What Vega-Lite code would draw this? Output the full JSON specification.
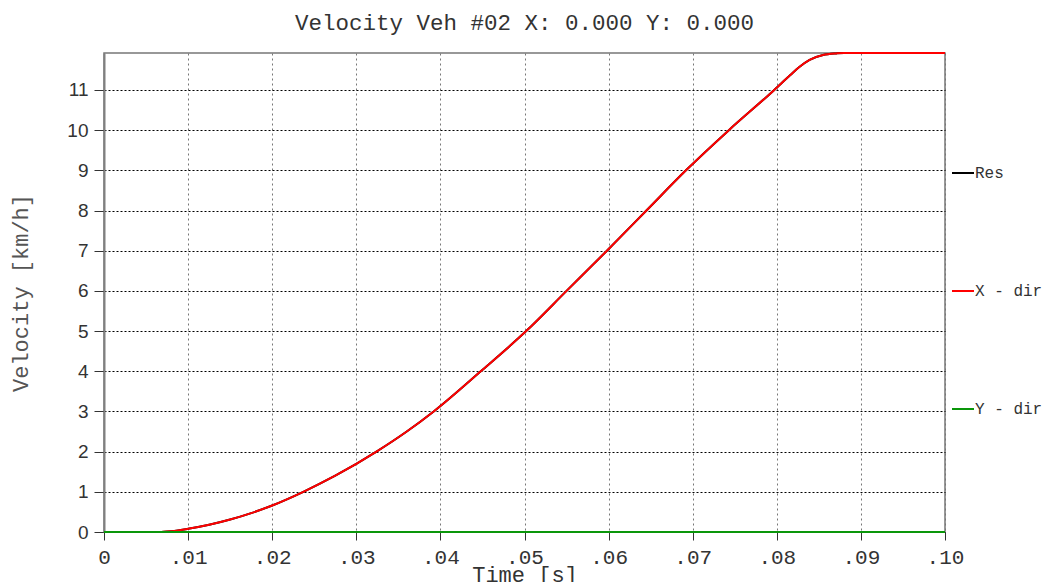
{
  "$schema": "https://vega.github.io/schema/vega-lite/v6.json",
  "width": 841,
  "height": 479,
  "autosize": {"type": "none"},
  "padding": {"left": 104, "top": 53, "right": 98, "bottom": 50},
  "background": "white",
  "title": {
    "text": "Velocity Veh #02 X: 0.000 Y: 0.000",
    "font": "Liberation Mono",
    "fontSize": 22.5,
    "fontWeight": "normal",
    "color": "#333333",
    "anchor": "middle",
    "offset": 15
  },
  "data": {
    "values": [
      {"t": 0, "v": 0, "series": "Res"},
      {"t": 0.0065, "v": 0, "series": "Res"},
      {"t": 0.008, "v": 0.02, "series": "Res"},
      {"t": 0.01, "v": 0.08, "series": "Res"},
      {"t": 0.0125, "v": 0.18, "series": "Res"},
      {"t": 0.015, "v": 0.31, "series": "Res"},
      {"t": 0.0175, "v": 0.47, "series": "Res"},
      {"t": 0.02, "v": 0.66, "series": "Res"},
      {"t": 0.0237, "v": 1.0, "series": "Res"},
      {"t": 0.0275, "v": 1.4, "series": "Res"},
      {"t": 0.0324, "v": 2.0, "series": "Res"},
      {"t": 0.036, "v": 2.5, "series": "Res"},
      {"t": 0.0392, "v": 3.0, "series": "Res"},
      {"t": 0.0448, "v": 4.0, "series": "Res"},
      {"t": 0.0502, "v": 5.0, "series": "Res"},
      {"t": 0.055, "v": 6.0, "series": "Res"},
      {"t": 0.0598, "v": 7.0, "series": "Res"},
      {"t": 0.0645, "v": 8.0, "series": "Res"},
      {"t": 0.0692, "v": 9.0, "series": "Res"},
      {"t": 0.0743, "v": 10.0, "series": "Res"},
      {"t": 0.0797, "v": 11.0, "series": "Res"},
      {"t": 0.0816, "v": 11.37, "series": "Res"},
      {"t": 0.0826, "v": 11.56, "series": "Res"},
      {"t": 0.0839, "v": 11.75, "series": "Res"},
      {"t": 0.0855, "v": 11.87, "series": "Res"},
      {"t": 0.0871, "v": 11.91, "series": "Res"},
      {"t": 0.088, "v": 11.92, "series": "Res"},
      {"t": 0.1, "v": 11.92, "series": "Res"},

      {"t": 0, "v": 0, "series": "X - dir"},
      {"t": 0.0065, "v": 0, "series": "X - dir"},
      {"t": 0.008, "v": 0.02, "series": "X - dir"},
      {"t": 0.01, "v": 0.08, "series": "X - dir"},
      {"t": 0.0125, "v": 0.18, "series": "X - dir"},
      {"t": 0.015, "v": 0.31, "series": "X - dir"},
      {"t": 0.0175, "v": 0.47, "series": "X - dir"},
      {"t": 0.02, "v": 0.66, "series": "X - dir"},
      {"t": 0.0237, "v": 1.0, "series": "X - dir"},
      {"t": 0.0275, "v": 1.4, "series": "X - dir"},
      {"t": 0.0324, "v": 2.0, "series": "X - dir"},
      {"t": 0.036, "v": 2.5, "series": "X - dir"},
      {"t": 0.0392, "v": 3.0, "series": "X - dir"},
      {"t": 0.0448, "v": 4.0, "series": "X - dir"},
      {"t": 0.0502, "v": 5.0, "series": "X - dir"},
      {"t": 0.055, "v": 6.0, "series": "X - dir"},
      {"t": 0.0598, "v": 7.0, "series": "X - dir"},
      {"t": 0.0645, "v": 8.0, "series": "X - dir"},
      {"t": 0.0692, "v": 9.0, "series": "X - dir"},
      {"t": 0.0743, "v": 10.0, "series": "X - dir"},
      {"t": 0.0797, "v": 11.0, "series": "X - dir"},
      {"t": 0.0816, "v": 11.37, "series": "X - dir"},
      {"t": 0.0826, "v": 11.56, "series": "X - dir"},
      {"t": 0.0839, "v": 11.75, "series": "X - dir"},
      {"t": 0.0855, "v": 11.87, "series": "X - dir"},
      {"t": 0.0871, "v": 11.91, "series": "X - dir"},
      {"t": 0.088, "v": 11.92, "series": "X - dir"},
      {"t": 0.1, "v": 11.92, "series": "X - dir"},

      {"t": 0, "v": 0, "series": "Y - dir"},
      {"t": 0.1, "v": 0, "series": "Y - dir"}
    ]
  },
  "mark": {"type": "line", "clip": false, "interpolate": "monotone"},
  "encoding": {
    "x": {
      "field": "t",
      "type": "quantitative",
      "scale": {"domain": [0, 0.1], "nice": false, "zero": false},
      "axis": {
        "title": "Time [s]",
        "values": [0, 0.01, 0.02, 0.03, 0.04, 0.05, 0.06, 0.07, 0.08, 0.09, 0.1],
        "labelExpr": "datum.value == 0 ? '0' : replace(format(datum.value, '.2f'), '0.', '.')",
        "labelFont": "Liberation Mono",
        "labelFontSize": 21,
        "labelColor": "#333333",
        "labelPadding": 6,
        "labelFlush": false,
        "tickSize": 8,
        "tickColor": "#333333",
        "domainColor": "#333333",
        "domainWidth": 1,
        "grid": true,
        "gridColor": "#777777",
        "gridDash": [2, 3],
        "gridWidth": 1,
        "titleFont": "Liberation Mono",
        "titleFontSize": 22,
        "titleFontWeight": "normal",
        "titleColor": "#333333",
        "titlePadding": -3
      }
    },
    "y": {
      "field": "v",
      "type": "quantitative",
      "scale": {"domain": [0, 11.92], "nice": false, "zero": true},
      "axis": {
        "title": "Velocity [km/h]",
        "values": [0, 1, 2, 3, 4, 5, 6, 7, 8, 9, 10, 11],
        "labelFont": "Liberation Sans",
        "labelFontSize": 19,
        "labelColor": "#333333",
        "labelPadding": 6,
        "tickSize": 10,
        "tickColor": "#333333",
        "domainColor": "#808080",
        "domainWidth": 2,
        "grid": true,
        "gridColor": "#000000",
        "gridDash": [2, 2],
        "gridWidth": 1,
        "titleFont": "Liberation Mono",
        "titleFontSize": 22,
        "titleFontWeight": "normal",
        "titleColor": "#555555",
        "titlePadding": 34
      }
    },
    "color": {
      "field": "series",
      "type": "nominal",
      "scale": {"domain": ["Res", "X - dir", "Y - dir"], "range": ["#000000", "#ff0000", "#0a960a"]},
      "legend": {
        "title": null,
        "orient": "none",
        "legendX": 847,
        "legendY": 108,
        "symbolType": "stroke",
        "symbolSize": 484,
        "symbolStrokeWidth": 2,
        "labelFont": "Liberation Mono",
        "labelFontSize": 16,
        "labelColor": "#333333",
        "labelOffset": 0,
        "rowPadding": 98
      }
    },
    "strokeWidth": {
      "field": "series",
      "type": "nominal",
      "scale": {"domain": ["Res", "X - dir", "Y - dir"], "range": [2, 2, 3.5]},
      "legend": null
    },
    "order": {"field": "t", "type": "quantitative"}
  },
  "config": {
    "view": {"stroke": "#777777", "strokeWidth": 1.5},
    "axis": {"labelFontWeight": "normal"}
  }
}
